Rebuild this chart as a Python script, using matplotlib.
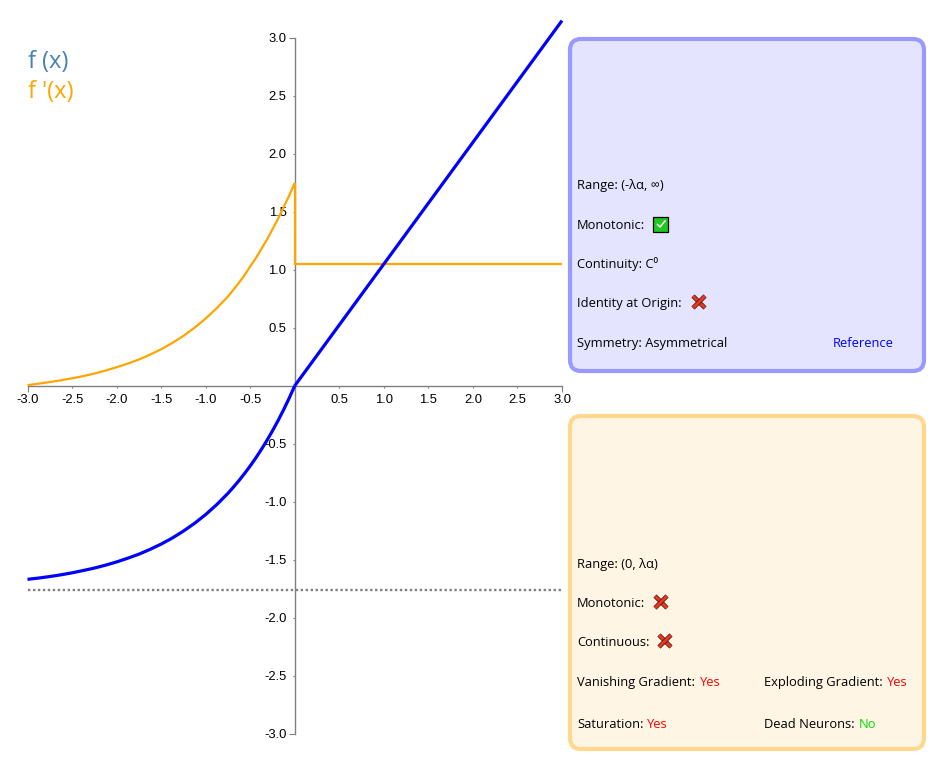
import matplotlib
matplotlib.use('Agg')
import matplotlib.pyplot as plt
from matplotlib.patches import FancyBboxPatch, Rectangle
import matplotlib.patheffects as pe

W, H = 948, 765

# values
x_neg = [-3.0, -2.875, -2.75, -2.625, -2.5, -2.375, -2.25, -2.125, -2.0, -1.875, -1.75, -1.625,
         -1.5, -1.375, -1.25, -1.125, -1.0, -0.875, -0.75, -0.6875, -0.625, -0.5625,
         -0.5, -0.4375, -0.375, -0.3125, -0.25, -0.1875, -0.125, -0.0625, 0.0]
f_neg = [-1.67, -1.659, -1.646, -1.631, -1.614, -1.594, -1.573, -1.548, -1.52, -1.488, -1.453, -1.412,
         -1.366, -1.314, -1.254, -1.187, -1.111, -1.025, -0.928, -0.874, -0.817, -0.756,
         -0.692, -0.623, -0.55, -0.472, -0.389, -0.301, -0.207, -0.107, 0.0]
df_neg = [0.005, 0.018, 0.032, 0.047, 0.064, 0.083, 0.105, 0.131, 0.16, 0.191, 0.226, 0.268,
          0.315, 0.369, 0.43, 0.5, 0.58, 0.67, 0.77, 0.83, 0.89, 0.955,
          1.03, 1.1, 1.18, 1.26, 1.35, 1.44, 1.54, 1.64, 1.75]
x_pos = [0.0, 3.0]
f_pos = [0.0, 3.15]
x_df_pos = [0.0, 0.0, 3.0]
df_pos = [1.75, 1.05, 1.05]
asymptote = -1.76

major_ticks = [-3.0, 3.0]
inner_ticks = [-2.5, -2.0, -1.5, -1.0, -0.5, 0.5, 1.0, 1.5, 2.0, 2.5]

BLUE_TEXT = [("Range: (-λα, ∞)", 189), ("Monotonic:", 229), ("Continuity: C⁰", 268),
             ("Identity at Origin:", 307), ("Symmetry: Asymmetrical", 347)]
ORANGE_TEXT = [("Range: (0, λα)", 568), ("Monotonic:", 607), ("Continuous:", 646),
               ("Vanishing Gradient:", 686), ("Saturation:", 728)]

fig = plt.figure(figsize=(W / 100, H / 100), dpi=100)

# overlay in pixel coordinates for the two cards and their text
bg = fig.add_axes([0, 0, 1, 1])
bg.set_xlim(0, W)
bg.set_ylim(H, 0)
bg.axis('off')

ax = fig.add_axes([27.5 / W, 1 - 733.5 / H, (562 - 27.5) / W, (733.5 - 38) / H])
ax.patch.set_alpha(0)
ax.set_xlim(-3, 3)
ax.set_ylim(-3, 3)

for s in ['top', 'right']:
    ax.spines[s].set_visible(False)
for s in ['left', 'bottom']:
    ax.spines[s].set_position(('data', 0))
    ax.spines[s].set_color('#808080')
    ax.spines[s].set_linewidth(1.0)

ax.set_xticks(major_ticks)
ax.set_yticks(major_ticks)
ax.set_xticks(inner_ticks, minor=True)
ax.set_yticks(inner_ticks, minor=True)
lbls = ['-3.0', '3.0']
ax.set_xticklabels(lbls)
ax.set_yticklabels(lbls)
ax.set_xticklabels(['%.1f' % t for t in inner_ticks], minor=True)
ax.set_yticklabels(['%.1f' % t for t in inner_ticks], minor=True)
ax.tick_params(which='major', length=4, width=0.8, color='#808080', pad=2, labelsize=9.4)
ax.tick_params(which='minor', length=1.5, width=0.8, color='#808080', pad=4.5, labelsize=9.4)
for lab in ax.get_xticklabels(which='both') + ax.get_yticklabels(which='both'):
    lab.set_fontfamily('Liberation Sans')

ax.plot(x_neg, df_neg, color='orange', lw=1.6, clip_on=False, zorder=3, solid_capstyle='butt')
ax.plot(x_df_pos, df_pos, color='orange', lw=1.6, clip_on=False, zorder=3, solid_joinstyle='miter',
        solid_capstyle='butt')
ax.plot(x_neg, f_neg, color='blue', lw=2.3, clip_on=False, zorder=4, solid_capstyle='butt')
ax.plot(x_pos, f_pos, color='blue', lw=2.3, clip_on=False, zorder=4, solid_capstyle='butt')
ax.plot([-3, 3], [asymptote, asymptote], color='#808080', lw=1.7, ls=(0, (1, 1.1)), zorder=2)

# legend
FONT = 'Open Sans'
bg.text(28, 67.5, "f (x)", color='#4682b4', fontsize=17, family=FONT, va='baseline')
bg.text(28, 97.5, "f '(x)", color='orange', fontsize=17, family=FONT, va='baseline')


def card(x0, y0, x1, y1, edge, face):
    bg.add_patch(FancyBboxPatch((x0, y0), x1 - x0, y1 - y0, boxstyle='round,pad=0,rounding_size=11',
                                fc=face, ec=edge, lw=3.0))


card(570, 39, 924, 371, '#9999ff', '#e4e4ff')
card(570, 416, 924, 749, '#ffd88e', '#fef5e4')


def label(x, y, s, color='black'):
    bg.text(x, y, s, color=color, fontsize=9.3, family=FONT, va='baseline', ha='left')


def cross(cx, cy):
    r = 6
    for a, b in [((-r, -r), (r, r)), ((-r, r), (r, -r))]:
        bg.plot([cx + a[0], cx + b[0]], [cy + a[1], cy + b[1]], color='#e8391e', lw=2.2,
                solid_capstyle='butt', path_effects=[pe.Stroke(linewidth=3.2, foreground='#401010'), pe.Normal()])


def check(cx, cy):
    bg.add_patch(Rectangle((cx - 7.5, cy - 7.5), 15, 15, fc='#1ec81e', ec='black', lw=0.9))
    bg.plot([cx - 3.5, cx - 1, cx + 4], [cy + 0.5, cy + 3, cy - 3], color='white', lw=1.1)


for s, y in BLUE_TEXT:
    label(577, y, s)
label(833, 347, "Reference", 'blue')
check(661, 224)
cross(699, 302)

for s, y in ORANGE_TEXT:
    label(577, y, s)
cross(661, 602)
cross(665, 641)
label(700, 686, "Yes", 'red')
label(647, 728, "Yes", 'red')
label(764, 686, "Exploding Gradient:")
label(887, 686, "Yes", 'red')
label(764, 728, "Dead Neurons:")
label(859, 728, "No", '#00dd00')

fig.savefig('out.png', dpi=100)
